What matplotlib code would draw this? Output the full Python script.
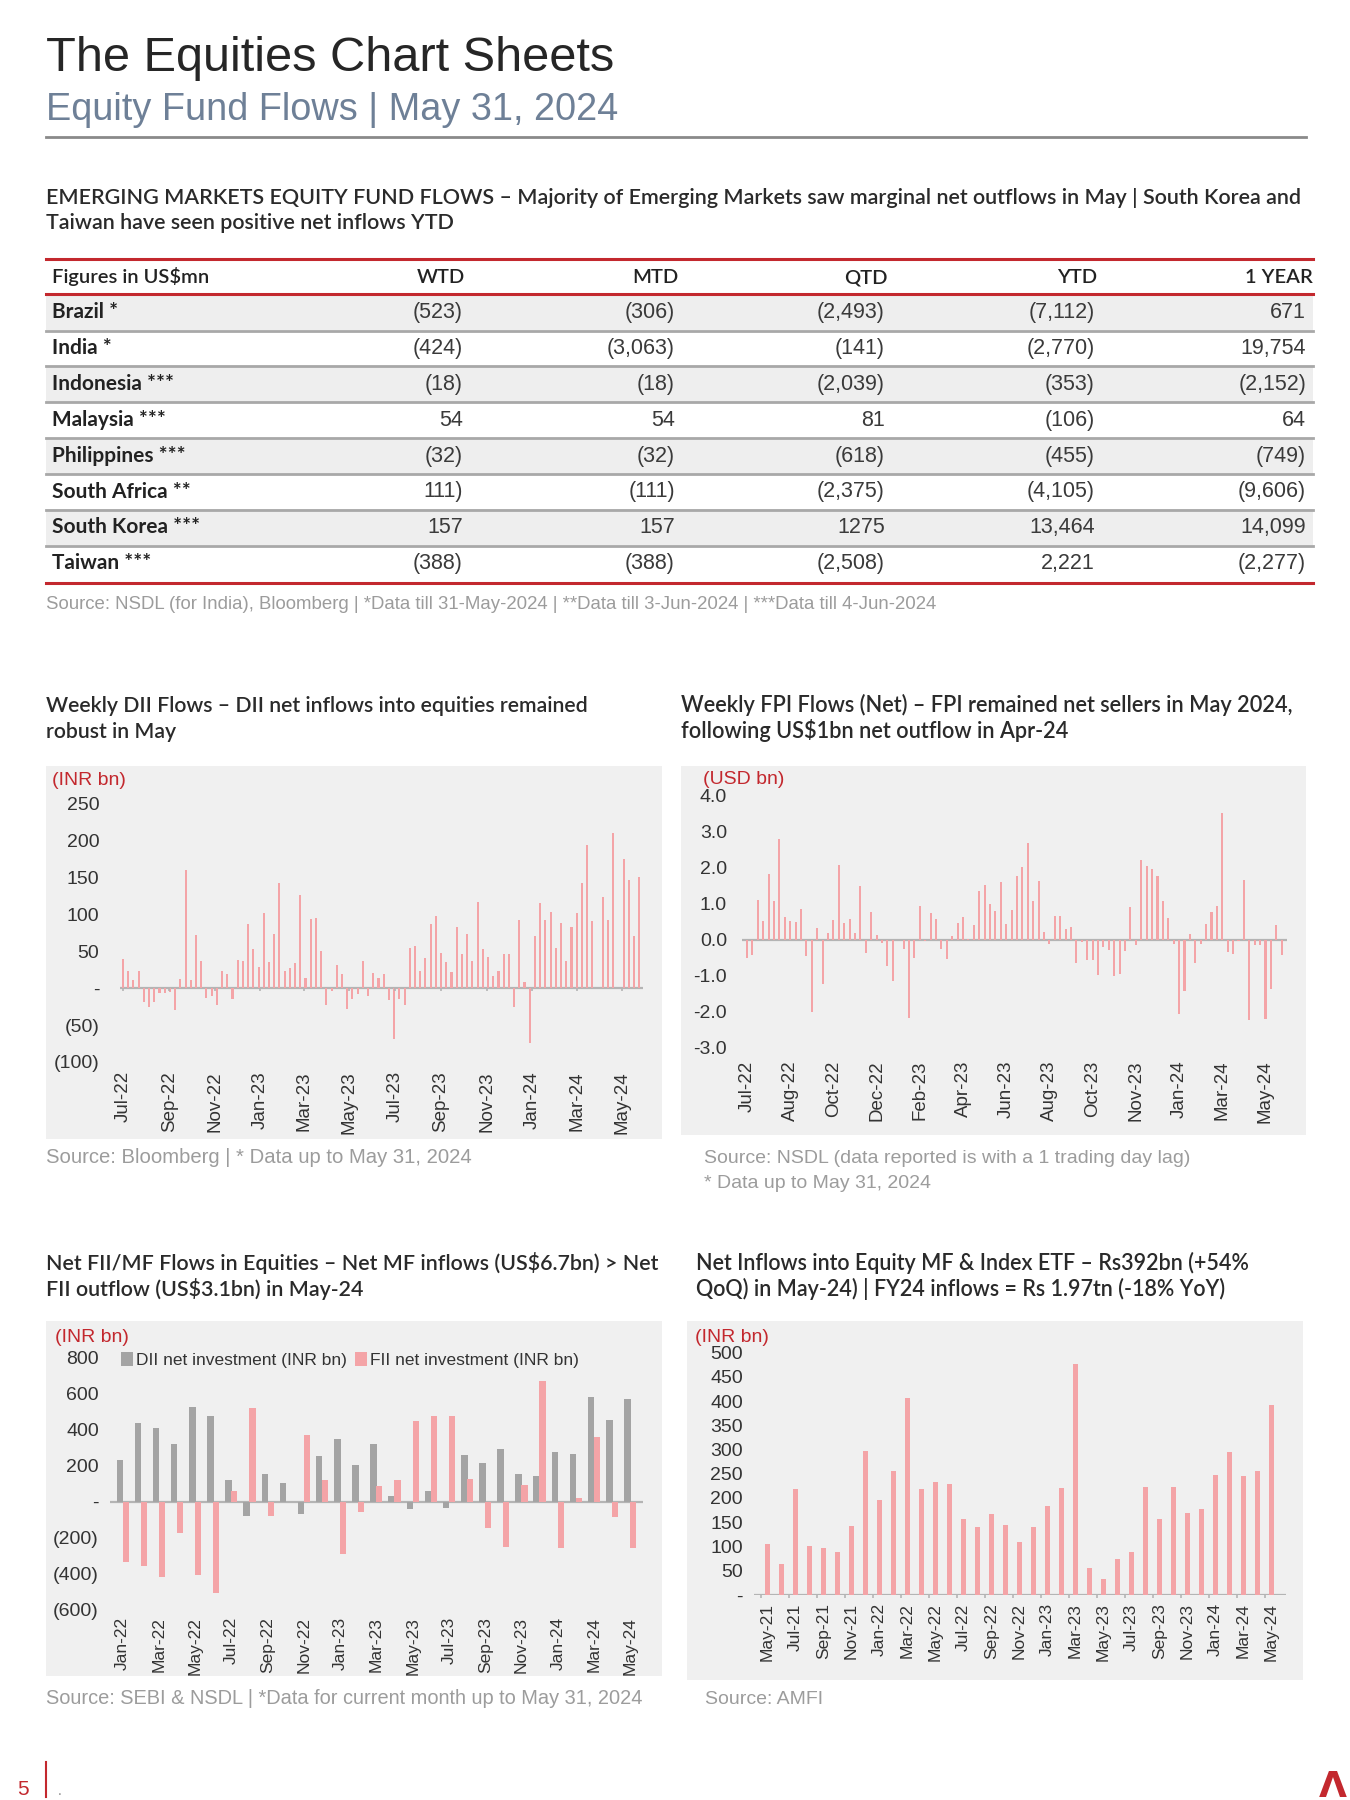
import numpy as np
import pandas as pd
import matplotlib
matplotlib.use('Agg')
import matplotlib.pyplot as plt
from matplotlib import font_manager
from matplotlib.lines import Line2D
from matplotlib.patches import Rectangle
from matplotlib.ticker import FuncFormatter

W, H = 1350, 1800
installed = {f.name for f in font_manager.fontManager.ttflist}
NARROW = 'Liberation Sans Narrow' if 'Liberation Sans Narrow' in installed else 'Liberation Sans'
HEAD = 'Lato' if 'Lato' in installed else 'DejaVu Sans'

PINK = '#f4a4a7'
GREY_BAR = '#a4a4a4'
RED = '#c3282e'
PANEL = '#f0f0f0'
AXIS = '#b4b4b4'
SRC = '#9c9c9c'

# ---------------- table data ----------------
table_cols = ['WTD', 'MTD', 'QTD', 'YTD', '1 YEAR']
table_rows = ['Brazil *', 'India *', 'Indonesia ***', 'Malaysia ***', 'Philippines ***',
              'South Africa **', 'South Korea ***', 'Taiwan ***']
wtd = ['(523)', '(424)', '(18)', '54', '(32)', '111)', '157', '(388)']
mtd = ['(306)', '(3,063)', '(18)', '54', '(32)', '(111)', '157', '(388)']
qtd = ['(2,493)', '(141)', '(2,039)', '81', '(618)', '(2,375)', '1275', '(2,508)']
ytd = ['(7,112)', '(2,770)', '(353)', '(106)', '(455)', '(4,105)', '13,464', '2,221']
one_year = ['671', '19,754', '(2,152)', '64', '(749)', '(9,606)', '14,099', '(2,277)']

# ---------------- weekly DII flows (INR bn) ----------------
dii_weekly = [40, 23, 11, 24, -18, -26, -19, -6, -6, -5, -29, 13, 161, 11, 72, 37, -13, -11, -23, 24,
              19, -14, 38, 37, 87, 53, 29, 102, 35, 74, 143, 24, 28, 34, 127, 14, 94, 96, 51, -23,
              -4, 32, 20, -28, -14, -8, 37, -10, 21, 14, 19, -16, -69, -14, -23, 54, 58, 24, 41, 87,
              98, 48, 36, 22, 83, 46, 73, 37, 117, 53, 43, 17, 23, 46, 46, -26, 92, 9, -74, 71,
              116, 92, 103, 55, 89, 37, 83, 102, 143, 195, 91, 0, 124, 93, 210, 0, 175, 147, 71, 151]
dii_dates = pd.date_range('2022-07-01', periods=len(dii_weekly), freq='7D')
dii_tick_dates = pd.date_range('2022-07-01', '2024-05-01', freq='2MS')

# ---------------- weekly FPI flows (USD bn) ----------------
fpi_weekly = [-0.51, -0.44, 1.09, 0.52, 1.81, 1.06, 2.77, 0.62, 0.52, 0.48, 0.84, -0.45, -2.0, 0.31, -1.22, 0.19,
              0.54, 2.05, 0.46, 0.57, 0.17, 1.48, -0.37, 0.75, 0.13, -0.09, -0.73, -1.14, -0.02, -0.25, -2.16, -0.50,
              0.94, -0.05, 0.74, 0.58, -0.26, -0.54, 0.09, 0.47, 0.63, 0.02, 0.39, 1.34, 1.51, 0.98, 0.78, 1.59,
              0.42, 0.83, 1.75, 2.01, 2.68, 1.07, 1.62, 0.20, -0.11, 0.66, 0.64, 0.30, 0.36, -0.66, -0.08, -0.57,
              -0.57, -0.99, -0.21, -0.30, -1.00, -0.94, -0.31, 0.89, -0.14, 2.20, 2.03, 1.95, 1.77, 1.07, 0.60, -0.11,
              -2.05, -1.43, 0.15, -0.64, -0.11, 0.42, 0.76, 0.94, 3.49, -0.34, -0.39, -0.05, 1.64, -2.23, -0.16, -0.16,
              -2.19, -1.38, 0.40, -0.44]
fpi_tick_labels = ['Jul-22', 'Aug-22', 'Oct-22', 'Dec-22', 'Feb-23', 'Apr-23', 'Jun-23',
                   'Aug-23', 'Oct-23', 'Nov-23', 'Jan-24', 'Mar-24', 'May-24']

# ---------------- monthly FII / DII (INR bn) ----------------
flow_months = pd.date_range('2022-01-01', '2024-05-01', freq='MS').strftime('%b-%y').tolist()
dii_monthly = [229, 433, 409, 320, 521, 476, 117, -78, 151, 102, -69, 253, 344, 201, 318, 32, -41, 56,
               -35, 260, 214, 292, 151, 140, 277, 264, 577, 452, 567]
fii_monthly = [-335, -357, -415, -175, -404, -506, 56, 517, -78, -5, 368, 117, -292, -56, 84, 121, 447, 476,
               474, 127, -147, -249, 93, 668, -259, 20, 357, -87, -257]

# ---------------- equity MF + index ETF inflows (INR bn) ----------------
mf_months = pd.date_range('2021-05-01', '2024-05-01', freq='MS').strftime('%b-%y').tolist()
mf_inflows = [106, 64, 219, 101, 97, 88, 143, 297, 195, 255, 407, 219, 234, 229, 157, 140, 166, 145, 109,
              141, 184, 221, 476, 55, 32, 74, 88, 222, 157, 222, 170, 178, 248, 295, 245, 255, 392]

fig = plt.figure(figsize=(13.5, 18), dpi=100)
renderer = fig.canvas.get_renderer()


def fx(x):
    return x / W


def fy(y):
    return 1 - y / H


def rect(left, top, width, height):
    return [left / W, 1 - (top + height) / H, width / W, height / H]


def put(x, y, s, size, fit=None, **kw):
    t = fig.text(fx(x), fy(y), s, fontsize=size, va='baseline', **kw)
    if fit:
        w = t.get_window_extent(renderer).width
        t.set_fontsize(size * fit / w)
    return t


def hline(x0, x1, y, color, lw):
    fig.add_artist(Line2D([fx(x0), fx(x1)], [fy(y), fy(y)], color=color, lw=lw, transform=fig.transFigure))


def panel(x0, y0, x1, y1):
    fig.add_artist(Rectangle((fx(x0), fy(y1)), (x1 - x0) / W, (y1 - y0) / H, transform=fig.transFigure,
                             facecolor=PANEL, edgecolor='none', zorder=0))


def paren(v, pos=None):
    if abs(v) < 1e-9:
        return '-'
    if v < 0:
        return f'({abs(v):,.0f})'
    return f'{v:,.0f}'


def two_lines(x, y, lines, fit, color='#2a2a2a'):
    t = put(x, y, lines[0], 15, fit=fit, family=HEAD, color=color, weight='semibold')
    size = t.get_fontsize()
    for i, s in enumerate(lines[1:], 1):
        put(x, y + 25.5 * i, s, size, family=HEAD, color=color, weight='semibold')


# ---------------- page header ----------------
put(46, 71, 'The Equities Chart Sheets', 39, fit=569, family=NARROW, color='#262626')
put(46, 119.5, 'Equity Fund Flows | May 31, 2024', 28, fit=572, family=NARROW, color='#6e8097')
hline(46, 1306, 137, '#8a8a8a', 2.0)

head1 = put(46, 204.5, 'EMERGING MARKETS EQUITY FUND FLOWS – Majority of Emerging Markets saw marginal net '
            'outflows in May | South Korea and', 14, fit=1256, family=HEAD, color='#2a2a2a', weight='semibold')
put(46, 229, 'Taiwan have seen positive net inflows YTD', head1.get_fontsize(), family=HEAD,
    color='#2a2a2a', weight='semibold')

# ---------------- table ----------------
col_right = [465, 678, 888, 1097, 1313]
row_h = 35.9
hdr = put(52, 283, 'Figures in US$mn', 13, fit=157, family=HEAD, color='#222222', weight='semibold')
hsize = hdr.get_fontsize()
for c, xr in zip(table_cols, col_right):
    put(xr, 283, c, hsize, family=HEAD, color='#222222', weight='semibold', ha='right')
for i in range(len(table_rows)):
    top = 294 + row_h * i
    if i % 2 == 0:
        fig.add_artist(Rectangle((fx(46), fy(top + row_h)), (1313 - 46) / W, row_h / H,
                                 transform=fig.transFigure, facecolor='#eeeeee', edgecolor='none', zorder=0))
for i, name in enumerate(table_rows):
    yb = 318 + row_h * i
    put(52, yb, name, hsize + 0.5, family=HEAD, color='#222222', weight='bold')
    for col, xr in zip([wtd, mtd, qtd, ytd, one_year], [463, 675, 885, 1095, 1306]):
        put(xr, yb, col[i], 15.5, family=NARROW, color='#3a3a3a', ha='right')
for i in range(len(table_rows) - 1):
    hline(46, 1313, 330.5 + row_h * i, '#a8a8a8', 2.0)
hline(46, 1313, 258.5, RED, 2.2)
hline(46, 1313, 294, RED, 2.2)
hline(46, 1313, 582.5, RED, 2.2)
put(46, 609, 'Source: NSDL (for India), Bloomberg | *Data till 31-May-2024 | **Data till 3-Jun-2024 | '
    '***Data till 4-Jun-2024', 12, fit=896, family=NARROW, color=SRC)

# ---------------- chart panels ----------------
panel(46, 766, 662, 1139)
panel(681, 766, 1306, 1135)
panel(46, 1321, 662, 1676)
panel(687, 1321, 1303, 1680)

two_lines(46, 712, ['Weekly DII Flows – DII net inflows into equities remained', 'robust in May'], 547)
two_lines(681, 712, ['Weekly FPI Flows (Net) – FPI remained net sellers in May 2024,',
                     'following US$1bn net outflow in Apr-24'], 617)
two_lines(46, 1270, ['Net FII/MF Flows in Equities – Net MF inflows (US$6.7bn) > Net',
                     'FII outflow (US$3.1bn) in May-24'], 613)
two_lines(696, 1270, ['Net Inflows into Equity MF & Index ETF – Rs392bn (+54%',
                      'QoQ) in May-24) | FY24 inflows = Rs 1.97tn (-18% YoY)'], 556)

for x, y, s in [(52, 785, '(INR bn)'), (703, 784, '(USD bn)'), (55, 1342, '(INR bn)'), (695, 1342, '(INR bn)')]:
    put(x, y, s, 14, family=NARROW, color=RED)

put(46, 1163, 'Source: Bloomberg | * Data up to May 31, 2024', 14, fit=427, family=NARROW, color=SRC)
src2 = put(704, 1163, 'Source: NSDL (data reported is with a 1 trading day lag)', 14, fit=488,
           family=NARROW, color=SRC)
put(704, 1188, '* Data up to May 31, 2024', src2.get_fontsize(), family=NARROW, color=SRC)
put(46, 1704, 'Source: SEBI & NSDL | *Data for current month up to May 31, 2024', 14, fit=601,
    family=NARROW, color=SRC)
put(705, 1704, 'Source: AMFI', src2.get_fontsize(), family=NARROW, color=SRC)


def style(ax, ypad, xpad, ysize=14, xsize=12.5):
    ax.set_facecolor('none')
    for s in ax.spines.values():
        s.set_visible(False)
    ax.tick_params(axis='both', length=0, colors='#333333')
    ax.tick_params(axis='y', pad=ypad, labelsize=ysize)
    ax.tick_params(axis='x', pad=xpad, labelrotation=90, labelsize=xsize)
    for lab in ax.get_xticklabels() + ax.get_yticklabels():
        lab.set_family(NARROW)


# ---------------- weekly DII ----------------
ax1 = fig.add_axes(rect(120, 804, 523, 258))
ax1.bar(dii_dates, dii_weekly, width=2.8, color=PINK, zorder=2)
ax1.axhline(0, color=AXIS, lw=1.6, zorder=1)
ax1.vlines(dii_tick_dates, -4, 0, color=AXIS, lw=1.2)
ax1.set_xlim(dii_dates[0] - pd.Timedelta(days=4), dii_dates[-1] + pd.Timedelta(days=5))
ax1.set_ylim(-100, 250)
ax1.set_yticks(np.arange(-100, 251, 50))
ax1.yaxis.set_major_formatter(FuncFormatter(paren))
ax1.set_xticks(dii_tick_dates)
ax1.set_xticklabels(dii_tick_dates.strftime('%b-%y'))
style(ax1, 15, 6.5, xsize=13.5)

# ---------------- weekly FPI ----------------
ax2 = fig.add_axes(rect(741.6, 795, 545.5, 253))
xf = np.arange(len(fpi_weekly))
ax2.bar(xf, fpi_weekly, width=0.38, color=PINK, zorder=2)
ax2.axhline(0, color=AXIS, lw=1.6, zorder=1)
ax2.set_xlim(-1, len(fpi_weekly))
ax2.set_ylim(-3, 4)
ax2.set_yticks(np.arange(-3, 4.1, 1))
ax2.yaxis.set_major_formatter(FuncFormatter(lambda v, p: f'{v:.1f}'))
ax2.set_xticks(xf[::8])
ax2.set_xticklabels(fpi_tick_labels)
style(ax2, 10.5, 9, xsize=13.5)

# ---------------- monthly DII vs FII ----------------
ax3 = fig.add_axes(rect(110, 1357, 533, 253))
xm = np.arange(len(flow_months))
b1 = ax3.bar(xm - 0.16, dii_monthly, width=0.36, color=GREY_BAR, zorder=2,
             label='DII net investment (INR bn)')
b2 = ax3.bar(xm + 0.16, fii_monthly, width=0.34, color=PINK, zorder=3,
             label='FII net investment (INR bn)')
ax3.axhline(0, color=AXIS, lw=1.6, zorder=1)
ax3.set_xlim(-0.7, len(flow_months) - 0.3)
ax3.set_ylim(-600, 800)
ax3.set_yticks(np.arange(-600, 801, 200))
ax3.yaxis.set_major_formatter(FuncFormatter(paren))
ax3.set_xticks(xm[::2])
ax3.set_xticklabels(flow_months[::2])
style(ax3, 8, 5)
fig.legend(handles=[b1, b2], loc='upper left', bbox_to_anchor=(fx(114), fy(1345)), ncol=2, frameon=False,
           handlelength=0.7, handleheight=0.9, handletextpad=0.15, columnspacing=0.5, borderaxespad=0,
           prop={'family': NARROW, 'size': 12.5}, labelcolor='#333333')

# ---------------- MF + ETF inflows ----------------
ax4 = fig.add_axes(rect(753.5, 1352.5, 532, 242.5))
xmf = np.arange(len(mf_months))
ax4.bar(xmf, mf_inflows, width=0.38, color=PINK, zorder=2)
ax4.axhline(0, color=AXIS, lw=1.6, zorder=1)
ax4.vlines(xmf[::2] - 0.5, -6, 0, color=AXIS, lw=1.2, clip_on=False)
ax4.set_xlim(-1, len(mf_months))
ax4.set_ylim(0, 500)
ax4.set_yticks(np.arange(0, 501, 50))
ax4.yaxis.set_major_formatter(FuncFormatter(paren))
ax4.set_xticks(xmf[::2])
ax4.set_xticklabels(mf_months[::2])
style(ax4, 7.5, 6)

# ---------------- footer ----------------
put(17, 1795, '5', 15, family=NARROW, color=RED)
fig.add_artist(Line2D([fx(46), fx(46)], [fy(1762), fy(1797)], color=RED, lw=1.5, transform=fig.transFigure))
put(58, 1795, '.', 10, family=NARROW, color='#888888')
put(1333, 1797, 'Λ', 26, family='DejaVu Sans', color=RED, weight='bold', ha='center')

fig.savefig('out.png', dpi=100)
